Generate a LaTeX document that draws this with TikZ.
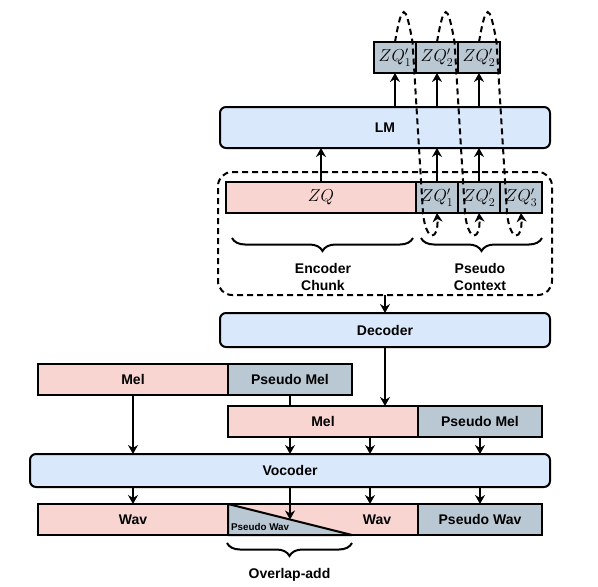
\documentclass[tikz,border=0pt]{standalone}
\usepackage{fontspec}
\setmainfont{Liberation Sans}
\usetikzlibrary{arrows.meta,calc,decorations.pathreplacing}
\definecolor{melpink}{HTML}{F8D5D0}
\definecolor{netblue}{HTML}{DAE8FC}
\definecolor{pseudogray}{HTML}{BAC8D3}

\begin{document}
\begin{tikzpicture}[x=1pt, y=-1pt,
    block/.style={draw, line width=2pt, rounded corners=6pt, fill=netblue, inner sep=0pt, outer sep=0pt, font=\fontsize{14}{17}\selectfont\bfseries},
    seg/.style={draw, line width=2pt, fill=melpink, inner sep=0pt, outer sep=0pt, minimum height=31pt, font=\fontsize{14}{17}\selectfont\bfseries},
    pseudo/.style={seg, fill=pseudogray},
    token/.style={pseudo, minimum width=42pt, font=\fontsize{17}{20}\selectfont},
    group/.style={draw, dash pattern=on 6pt off 4pt, line width=2pt, rounded corners=14pt, inner sep=0pt, outer sep=0pt},
    arrow/.style={-{Stealth[length=9pt,width=10pt,inset=3pt]}, line width=2pt},
    feedback/.style={arrow, dash pattern=on 6pt off 4pt},
    brace/.style={decorate, decoration={brace, mirror, amplitude=13pt}, line width=2pt},
    label/.style={font=\fontsize{14}{17}\selectfont\bfseries, align=center}
]
\useasboundingbox (0,0) rectangle (598,587);

% Context group around the LM inputs
\node[group, minimum width=334pt, minimum height=123pt] (ctx) at (385,233.5) {};

% LM with its input and output tokens
\node[block, minimum width=330pt, minimum height=41pt] (lm) at (385,127.5) {LM};
\node[seg, minimum width=190pt, font=\fontsize{17}{20}\selectfont] (zq) at (321,197.5) {$ZQ$};
\node[token, anchor=west] (in1) at (zq.east) {$ZQ'_1$};
\node[token, anchor=west] (in2) at (in1.east) {$ZQ'_2$};
\node[token, anchor=west] (in3) at (in2.east) {$ZQ'_3$};
\node[token] (out1) at (395,57.5) {$ZQ'_1$};
\node[token, anchor=west] (out2) at (out1.east) {$ZQ'_2$};
\node[token, anchor=west] (out3) at (out2.east) {$ZQ'_2$};

% Braces under the tokens
\draw[brace] (232,238) -- (413,238);
\draw[brace] (421,238) -- (542,238);
\node[label] (enctxt) at (323,276.5) {Encoder\\Chunk};
\node[label] (pctxtxt) at (480,276.5) {Pseudo\\Context};

% Decoder and mel chunks
\node[block, minimum width=330pt, minimum height=34pt] (dec) at (385,330) {Decoder};
\node[seg, minimum width=190pt] (mel1) at (133,379.5) {Mel};
\node[pseudo, minimum width=124pt, anchor=west] (pmel1) at (mel1.east) {Pseudo Mel};
\node[seg, minimum width=190pt] (mel2) at (323,421.5) {Mel};
\node[pseudo, minimum width=124pt, anchor=west] (pmel2) at (mel2.east) {Pseudo Mel};

% Vocoder and waveform
\node[block, minimum width=520pt, minimum height=33pt] (voc) at (290,470.5) {Vocoder};
\node[seg, minimum width=380pt] (wav) at (228,519.5) {};
\node[pseudo, minimum width=124pt, anchor=west] (pwav) at (wav.east) {Pseudo Wav};
\draw[line width=2pt, line join=round, fill=pseudogray] (pmel1.west |- wav.north) -- (pmel1.west |- wav.south) -- (pmel1.east |- wav.south) -- cycle;
\node[font=\fontsize{9.8}{11}\selectfont\bfseries, anchor=base west, inner sep=0pt] (pwavtxt) at (231,530) {Pseudo Wav};
\node[label] (wavtxt1) at (mel1 |- wav) {Wav};
\node[label] (wavtxt2) at (377,519.5) {Wav};
\draw[brace] (227,543) -- (352,543);
\node[label] (olatxt) at (289.5,575) {Overlap-add};

% Connections
\draw[arrow] (zq.north) -- (zq.north |- lm.south);
\draw[arrow] (in1.north) -- (in1.north |- lm.south);
\draw[arrow] (in2.north) -- (in2.north |- lm.south);
\foreach \i in {1,2,3}
  \draw[arrow] (out\i.south |- lm.north) -- (out\i.south);
\draw[arrow] (ctx.south) -- (dec.north);
\draw[arrow] (dec.south) -- (dec.south |- mel2.north);
\draw[line width=2pt] (pmel1.south) -- (pmel1.south |- mel2.north);
\coordinate (m2q) at ($(mel2.south west)+(142,0)$);
\draw[arrow] (mel1.south) -- (mel1.south |- voc.north);
\draw[arrow] (pmel1.south |- mel2.south) -- (pmel1.south |- voc.north);
\draw[arrow] (m2q) -- (m2q |- voc.north);
\draw[arrow] (pmel2.south) -- (pmel2.south |- voc.north);
\draw[arrow] (mel1.south |- voc.south) -- (mel1.south |- wav.north);
\draw[arrow] (pmel1.south |- voc.south) -- (pmel1.south |- wav.center);
\draw[arrow] (m2q |- voc.south) -- (m2q |- wav.north);
\draw[arrow] (pwav.north |- voc.south) -- (pwav.north);

% Feedback of predicted tokens
\foreach \i in {1,2,3}
  \draw[feedback] (out\i.north) .. controls +(7,-40) and +(-7,-40) .. ($(out\i.north east)+(-3.5,0)$)
    -- ($(in\i.south west)+(7,0)$) .. controls +(3,30) and +(2,28) .. (in\i.south);

\end{tikzpicture}
\end{document}
